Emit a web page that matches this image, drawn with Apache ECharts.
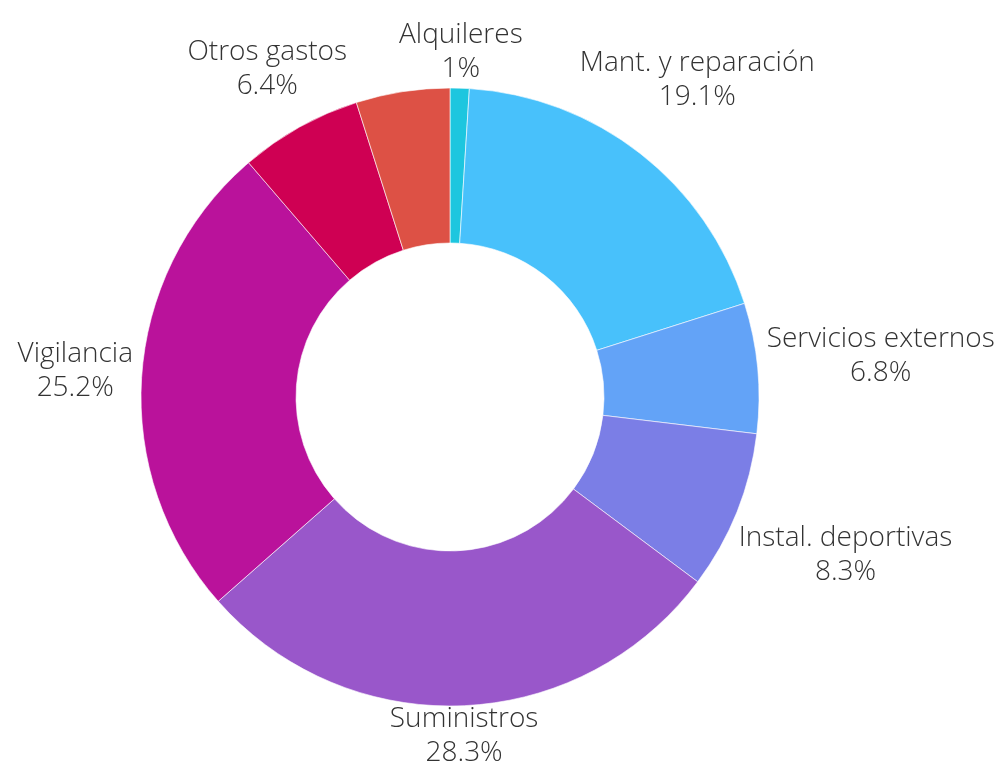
<!DOCTYPE html>
<html><head><meta charset="utf-8">
<script src="https://cdn.jsdelivr.net/npm/echarts@6/dist/echarts.min.js"></script>
<style>html,body{margin:0;padding:0;background:#fff}#chart{width:1003px;height:768px}</style>
</head><body><div id="chart"></div>
<script>
const categories = ['Alquileres', 'Mant. y reparación', 'Servicios externos', 'Instal. deportivas', 'Suministros', 'Vigilancia', 'Otros gastos', 'Otros'];
const values = [1, 19.1, 6.8, 8.3, 28.3, 25.2, 6.4, 4.9];
const colors = ['#1dc6df', '#48c1fb', '#63a3f7', '#7b7ee6', '#9957ca', '#ba129b', '#cf0053', '#dd5145'];
const showLabel = [true, true, true, true, true, true, true, false];

const CX = 450, CY = 397, R_OUT = 309, R_IN = 154, LABEL_DIST = 318;
const W = 1003, H = 768;
const total = values.reduce((a, b) => a + b, 0);
const midAngles = [];
let acc = 0;
values.forEach(v => { midAngles.push((acc + v / 2) / total * 2 * Math.PI); acc += v; });

function placeLabel(params) {
  const a = midAngles[params.dataIndex];
  const ux = Math.sin(a), uy = -Math.cos(a);
  const w = params.labelRect.width / 2 - 1, h = params.labelRect.height / 2 - 7;
  let lo = 0, hi = 1000;
  for (let k = 0; k < 60; k++) {
    const t = (lo + hi) / 2;
    const bx = t * ux, by = t * uy;
    const dx = Math.max(Math.abs(bx) - w, 0), dy = Math.max(Math.abs(by) - h, 0);
    if (Math.hypot(dx, dy) < LABEL_DIST) lo = t; else hi = t;
  }
  const t = (lo + hi) / 2;
  let y = CY + t * uy;
  y = Math.min(y, H - h - 5);
  y = Math.max(y, h + 5);
  return { x: CX + t * ux, y: y, align: 'center', verticalAlign: 'middle' };
}

const chart = echarts.init(document.getElementById('chart'), null, { renderer: 'canvas' });
chart.setOption({
  animation: false,
  backgroundColor: '#fff',
  series: [{
    type: 'pie',
    center: [CX, CY],
    radius: [R_IN, R_OUT],
    startAngle: 90,
    clockwise: true,
    avoidLabelOverlap: false,
    itemStyle: { borderColor: 'rgba(255,255,255,0.6)', borderWidth: 1 },
    label: {
      show: true,
      position: 'outside',
      formatter: '{b}\n{c}%',
      fontFamily: 'Open Sans',
      fontWeight: 300,
      fontSize: 28,
      lineHeight: 34,
      color: '#333'
    },
    labelLine: { show: false },
    labelLayout: placeLabel,
    emphasis: { disabled: true },
    data: categories.map((name, i) => ({
      name: name,
      value: values[i],
      itemStyle: { color: colors[i] },
      label: { show: showLabel[i] }
    }))
  }]
});
</script>
</body></html>
